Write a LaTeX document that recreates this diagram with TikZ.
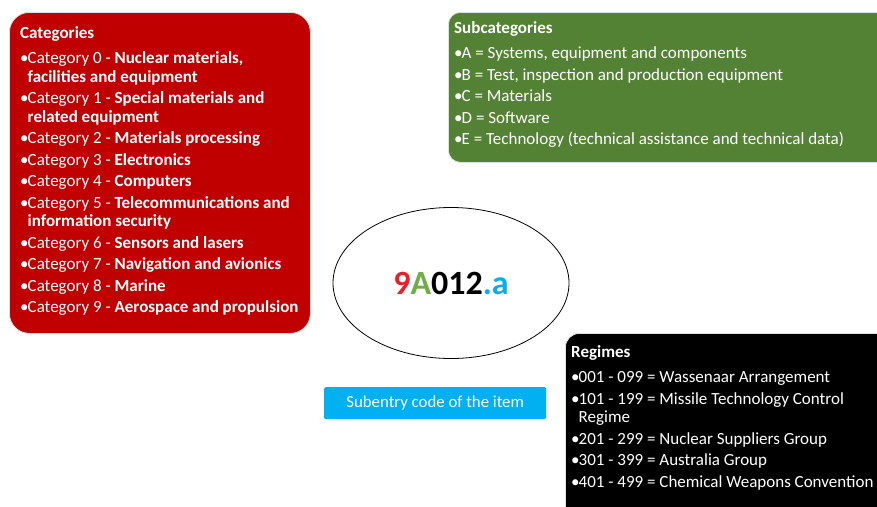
\documentclass[tikz,border=0pt]{standalone}
\usepackage{fontspec}
\setmainfont{Carlito}
\usetikzlibrary{shapes.geometric,positioning}

\definecolor{catred}{HTML}{C00000}
\definecolor{subgreen}{HTML}{548235}
\definecolor{codeblue}{HTML}{00B0F0}
\definecolor{codered}{HTML}{E8202A}
\definecolor{codegreen}{HTML}{70AD47}

% list helpers
\newcommand{\itm}{\par\noindent\makebox[7.5pt][l]{\textbullet}}
\newcommand{\cont}{\par\vspace{-\parskip}\noindent\hspace*{7.5pt}}
\newcommand{\hdr}[1]{\spaceskip=0pt\xspaceskip=0pt\noindent\textbf{#1}\par\vspace{3.5pt}}

\begin{document}
\begin{tikzpicture}[x=1pt,y=-1pt,
  panel/.style={anchor=north west, inner sep=0pt, rounded corners=#1, draw=black!12, line width=0.8pt},
  list/.style={anchor=north west, inner sep=0pt, text width=#1, text=white,
               font=\fontsize{17}{18.5}\selectfont\setlength{\parskip}{3pt}}]
\useasboundingbox (0,0) rectangle (877,506);
\clip (0,0) rectangle (877,506);

% Categories
\node (catbox) at (9,12) [panel=20pt, fill=catred, minimum width=301, minimum height=321] {};
\node (catlist) [list=300pt, below right=14.5pt and 11pt of catbox.north west]
{\hdr{Categories}
 \itm Category 0 - \textbf{Nuclear materials,}\cont\textbf{facilities and equipment}
 \itm Category 1 - \textbf{Special materials and}\cont\textbf{related equipment}
 \itm Category 2 - \textbf{Materials processing}
 \itm Category 3 - \textbf{Electronics}
 \itm Category 4 - \textbf{Computers}
 \itm Category 5 - \textbf{Telecommunications and}\cont\textbf{information security}
 \itm Category 6 - \textbf{Sensors and lasers}
 \itm Category 7 - \textbf{Navigation and avionics}
 \itm Category 8 - \textbf{Marine}
 \itm Category 9 - \textbf{Aerospace and propulsion}};

% Subcategories
\node (subbox) at (448,12) [panel=12pt, fill=subgreen, minimum width=445, minimum height=150] {};
\node (sublist) [list=420pt, below right=9.5pt and 6pt of subbox.north west]
{\hdr{Subcategories}
 \itm A = Systems, equipment and components
 \itm B = Test, inspection and production equipment
 \itm C = Materials
 \itm D = Software
 \itm E = Technology (technical assistance and technical data)};

% Item code
\node (code) at (451,283) [ellipse, draw, line width=0.8pt, fill=white, minimum width=236, minimum height=151,
  font=\fontsize{34}{40}\selectfont\bfseries]
{\textcolor{codered}{9}\textcolor{codegreen}{A}012\textcolor{codeblue}{.a}};

\node (subentry) at (324,387) [anchor=north west, fill=codeblue, rounded corners=1.5pt, minimum width=222, minimum height=32,
  text=white, font=\fontsize{16.8}{19}\selectfont] {Subentry code of the item};

% Regimes
\node (regbox) at (565,333) [panel=14pt, fill=black, minimum width=330, minimum height=200] {};
\node (reglist) [list=310pt, below right=12.5pt and 6pt of regbox.north west]
{\hdr{Regimes}
 \itm 001 - 099 = Wassenaar Arrangement
 \itm 101 - 199 = Missile Technology Control\cont Regime
 \itm 201 - 299 = Nuclear Suppliers Group
 \itm 301 - 399 = Australia Group
 \itm 401 - 499 = Chemical Weapons Convention};

\end{tikzpicture}
\end{document}
